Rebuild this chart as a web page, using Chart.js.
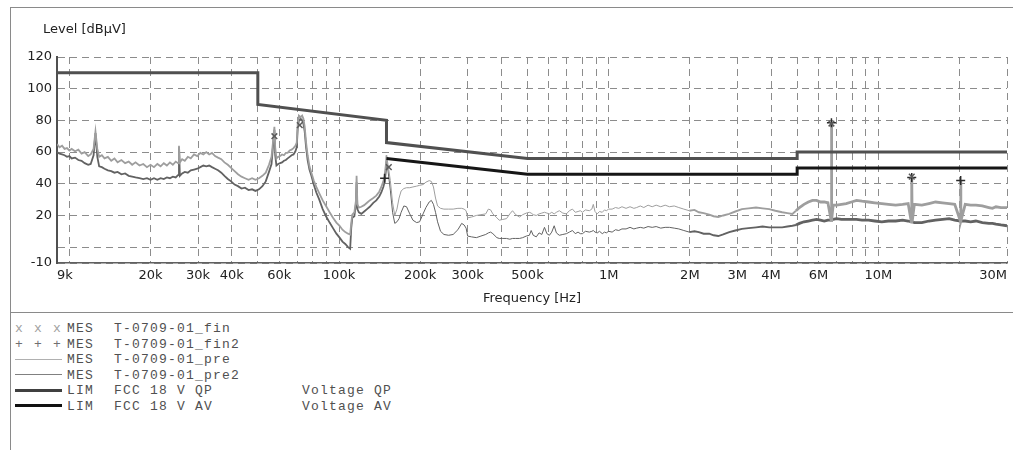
<!DOCTYPE html>
<html>
<head>
<meta charset="utf-8">
<title>Level vs Frequency</title>
<script src="https://cdn.jsdelivr.net/npm/chart.js@4.4.1/dist/chart.umd.min.js"></script>
<style>
  html, body { margin: 0; padding: 0; background: #fff; overflow: hidden; }
  #page { position: relative; width: 1013px; height: 450px; }
  #frame { position: absolute; left: 10px; top: 7px; width: 1003px; height: 443px;
           border-left: 1px solid #8a8a8a; border-top: 1px solid #8a8a8a; box-sizing: border-box; }
  #sep { position: absolute; left: 10px; top: 312px; width: 1003px; height: 1px; background: #8a8a8a; }
  #chart { position: absolute; left: 0; top: 0; }
  #legend { position: absolute; left: 15px; top: 321px; font: 13px "Liberation Mono", "Courier New", monospace;
            letter-spacing: 1.2px; color: #505050; }
  #legend .row { position: relative; height: 15.5px; line-height: 15.5px; white-space: pre; }
  #legend .row span { position: absolute; top: 0; }
  #legend .mark { left: 0; letter-spacing: 1.7px; }
  #legend .swatch { left: 0; width: 47px; top: 7px !important; }
  #legend .kind { left: 52px; }
  #legend .name { left: 99px; }
  #legend .desc { left: 287px; }
</style>
</head>
<body>
<div id="page">
  <div id="frame"></div>
  <div id="sep"></div>
  <canvas id="chart" width="1013" height="312"></canvas>
  <div id="legend"></div>
</div>
<script>
// --- data (frequency in kHz, level in dBµV) ---
const freqKHz = [
  9.0, 9.2, 9.4, 9.6, 9.8, 10.0, 10.2, 10.5, 10.8, 11.1, 11.4, 11.75, 12.0, 12.3, 12.5, 12.7, 12.9,
  13.2, 13.5, 13.9, 14.3, 14.7, 15.1, 15.6, 16.1, 16.6, 17.1, 17.6, 18.2, 18.8, 19.4, 20.0, 20.6,
  21.2, 21.8, 22.4, 23.0, 23.6, 24.2, 24.8, 25.3, 25.5, 25.7, 26.2, 26.8, 27.5, 28.2, 29.0, 29.8,
  30.6, 31.4, 32.2, 33.0, 33.8, 34.7, 35.6, 36.6, 37.6, 38.7, 39.8, 41.0, 42.2, 43.5, 44.8, 46.2,
  47.6, 49.0, 50.5, 52.0, 53.5, 55.0, 56.2, 57.2, 57.6, 58.0, 58.6, 59.5, 60.5, 61.5, 62.5, 63.5,
  64.5, 65.6, 66.7, 67.8, 68.9, 69.7, 70.3, 71.0, 72.0, 73.0, 73.8, 74.6, 75.5, 76.5, 77.7, 79.0,
  80.6, 82.4, 84.5, 87.0, 89.5, 92.3, 95.0, 97.8, 100.5, 103, 105.5, 108, 110, 111, 112, 114,
  115.5, 116.2, 117, 118.5, 121, 124, 127, 130, 134, 137.5, 141, 143.5, 146, 147.6, 149.2, 150,
  152, 155, 158, 161, 164, 167, 170, 174, 178, 183, 188, 194, 199, 205, 210, 216, 220, 224, 228,
  232, 238, 245, 255, 265, 276, 285, 291, 296, 300, 310, 323, 336, 350, 358, 365, 372, 385, 393,
  405, 418, 430, 440, 452, 467, 480, 495, 508, 516, 525, 539, 552, 565, 578, 590, 603, 615, 628,
  640, 656, 676, 697, 715, 734, 752, 770, 785, 799, 820, 848, 866, 877, 890, 907, 925, 947, 965,
  980, 1000, 1030, 1060, 1090, 1120, 1160, 1200, 1240, 1270, 1310, 1350, 1400, 1450, 1500, 1560,
  1620, 1680, 1750, 1820, 1900, 1990, 2080, 2160, 2250, 2360, 2450, 2550, 2660, 2800, 2950, 3120,
  3300, 3520, 3720, 3940, 4150, 4400, 4600, 4800, 4950, 5100, 5300, 5500, 5700, 5900, 6100, 6300,
  6500, 6680, 6700, 6720, 6800, 7000, 7300, 7600, 7950, 8300, 8700, 9200, 9700, 10300, 10900,
  11600, 12300, 12900, 13250, 13300, 13350, 13600, 14500, 15400, 16300, 17300, 18300, 19200,
  20150, 20200, 20250, 21000, 22000, 23000, 24300, 25700, 26500, 27300, 28500, 30000
];
const preLevel = [
  65, 63, 64, 62, 62.5, 61, 62, 60.5, 61.5, 59, 60, 57.5, 58.5, 62, 73, 62, 57,
  58, 56, 57, 54.5, 56, 53.5, 55, 53, 54, 52, 53.5, 51.5, 52.5, 50.5, 52, 50.5,
  52.5, 51, 53, 51.5, 53.5, 52, 54, 53, 64, 53.5, 55.5, 54.5, 57, 56, 58.5, 57.5,
  59.5, 58.5, 60, 58.5, 59.5, 57.5, 56.5, 55.5, 53.5, 52, 50, 48, 46, 44.5, 43.5, 42.5,
  43.5, 42.5, 43.5, 45, 47, 52, 57, 70, 76, 63, 56, 57, 57.5, 58.5, 58, 59.5,
  59.5, 61, 61.5, 62.5, 64, 66, 78, 83, 82, 83, 81, 76, 66, 58, 51, 47,
  42, 38, 34, 29.5, 26, 22, 18.5, 15.5, 13.5, 11, 9.5, 8.5, 8, 15, 20.5, 22,
  29, 45, 27, 25, 25.5, 26.5, 28, 29.5, 31, 32.5, 35, 38, 41.5, 45, 52, 58,
  52, 42, 28, 20, 24, 31, 35.5, 37, 37.5, 37.5, 38, 38.5, 39, 39.5, 41, 42, 41.5, 38, 31,
  26, 24.5, 24, 24, 24, 24.5, 24.5, 24, 23, 18.5, 19, 20, 20.5, 21, 24, 23.5, 21, 18.5, 17,
  17.5, 18, 21, 23, 20.5, 19, 20.5, 21.5, 22, 21.5, 20.5, 20, 21, 21.5, 22, 21.5, 21, 22, 21,
  22, 23, 21.5, 21, 23, 24, 22, 22.5, 23, 22, 23.5, 23, 24, 27, 22.5, 21, 22.5, 22, 23.5,
  23, 24, 24, 25, 24.5, 25.5, 24.5, 25.5, 24.5, 25, 26, 25, 26.5, 25.5, 26.5, 25.5,
  26.5, 25.5, 26, 25, 24, 23, 23.5, 22, 21.5, 20.5, 19.5, 19, 20, 21, 22.5, 24,
  24.5, 25, 24.5, 24, 23, 22, 21.5, 21, 23, 25, 27, 28.5, 29.5, 29.5, 28.5, 28.5,
  28, 17, 78, 17, 26.5, 26.5, 27, 27.5, 28.5, 29.5, 29, 28.5, 28, 27.5, 27,
  26.5, 27, 27.5, 16, 44, 16, 27, 26.5, 27.5, 28.5, 28, 27.5, 27,
  16.5, 42, 16.5, 27, 26.5, 26.5, 26, 25, 24.5, 25.5, 25, 25
];
const pre2Level = [
  60, 59, 58.5, 58, 57, 57.5, 56, 56.5, 55, 54.5, 53, 52, 52.5, 58, 72, 57, 51,
  50.5, 49.5, 48.5, 48, 47, 47.5, 46, 46.5, 45, 44.5, 44, 43.5, 43, 43.5, 42.5, 43.5,
  42.5, 43.5, 43, 44, 43.5, 44.5, 44, 45.5, 63, 45, 46.5, 47.5, 47, 48.5, 49, 49.5,
  50.5, 51.5, 51, 51.5, 50.5, 49.5, 48.5, 47, 45, 43, 41.5, 39.5, 38.5, 37, 37.5, 36,
  36.5, 35.5, 36.5, 38.5, 41.5, 47.5, 52.5, 68, 74, 58, 51.5, 52.5, 53, 53.5, 54.5, 55,
  56, 57, 58, 58.5, 60.5, 63, 75, 80, 81, 80, 78, 73, 63, 55, 49, 45,
  39.5, 34.5, 30, 24, 19.5, 15.5, 12, 8.5, 6, 3.5, 2, 0, -1, 12, 18.5, 19.5,
  27, 41, 24, 22, 21, 22.5, 24, 25.5, 28, 29.5, 32, 34.5, 38, 41, 48, 54,
  48, 36, 22, 15, 16, 18, 22, 26, 25.5, 21, 17, 15.5, 16, 21, 25, 28.5, 29.5, 27, 22,
  16, 10, 8, 7.5, 8, 11, 15, 14, 12, 7, 6.5, 6, 7, 8, 9, 9.5, 8.5, 6, 5.5,
  5.5, 5.5, 5, 5.5, 5.5, 5.5, 6, 7, 7.5, 10.5, 7.5, 6.5, 9, 8, 12.5, 8.5, 7.5, 9.5, 13.5,
  9, 7.5, 8, 8.5, 9.5, 10.5, 8.5, 9.5, 8.5, 8.5, 10, 9.5, 10, 10.5, 9.5, 9, 10, 8.5, 9.5,
  9, 10, 9.5, 11, 10.5, 11.5, 11.5, 12.5, 11.5, 12, 12.5, 12, 13, 12.5, 13, 12,
  12.5, 12.5, 12, 11.5, 10.5, 9.5, 10, 9.5, 8.5, 8.5, 7.5, 7, 8, 9.5, 10.5, 11.5,
  12, 12.5, 13, 12.5, 12.5, 12.5, 13, 13.5, 14, 15, 16, 16.5, 17, 17.5, 17, 16.5,
  17, 17, 17.5, 17.5, 17.5, 18, 17.5, 17.5, 17.5, 17.5, 17, 17, 16.5, 16, 16.5,
  16.5, 17, 16.5, 16, 16, 16, 15.5, 15.5, 16.5, 17, 17.5, 18, 17,
  16.5, 16.5, 16.5, 16.5, 16, 16.5, 15.5, 15, 15, 14.5, 14, 13.5
];

// limit lines (FCC 18, QP and AV)
const qpFreqKHz = [9, 50, 50, 150, 150, 500, 5000, 5000, 30000];
const qpLevel   = [110, 110, 90, 80, 66, 56, 56, 60, 60];
const avFreqKHz = [150, 500, 5000, 5000, 30000];
const avLevel   = [56, 46, 46, 50, 50];

// final measurement markers
const finFreqKHz  = [57.6, 71.5, 153, 6700, 13300];
const finLevel    = [70, 77, 50.5, 78, 44.5];
const fin2FreqKHz = [147.6, 6700, 13300, 20200];
const fin2Level   = [43.5, 78.5, 44, 42];

// axes
const xGridKHz = [9, 10, 20, 30, 40, 50, 60, 70, 80, 90, 100, 200, 300, 400, 500, 600, 700, 800, 900,
  1000, 2000, 3000, 4000, 5000, 6000, 7000, 8000, 9000, 10000, 20000, 30000];
const xLabelKHz  = [9, 20, 30, 40, 60, 100, 200, 300, 500, 1000, 2000, 3000, 4000, 6000, 10000, 30000];
const xLabelText = ['9k', '20k', '30k', '40k', '60k', '100k', '200k', '300k', '500k', '1M', '2M', '3M', '4M', '6M', '10M', '30M'];
const yTicks      = [-10, 0, 20, 40, 60, 80, 100, 120];
const yTickLabels = ['-10', '', '20', '40', '60', '80', '100', '120'];

const yTitle = 'Level [dBµV]';
const xTitle = 'Frequency [Hz]';

const toPoints = (fk, lv) => fk.map((f, i) => ({ x: f * 1000, y: lv[i] }));
const xLabelMap = new Map(xLabelKHz.map((f, i) => [f * 1000, xLabelText[i]]));
const yLabelMap = new Map(yTicks.map((v, i) => [v, yTickLabels[i]]));

const axisFont = { family: '"DejaVu Sans", Arial, sans-serif', size: 13 };

// thicker strokes where the scan is noisy
const traceWidth = (base) => (c) => {
  const f = c.p0.parsed.x;
  if (f > 4.9e6) return base + 1.8;
  if (f > 1.9e6) return base + 0.9;
  if (f < 150e3) return base + 0.8;
  return base;
};

const levelTitle = {
  id: 'levelTitle',
  afterDraw(chart) {
    const { ctx, chartArea } = chart;
    ctx.save();
    ctx.font = '13px "DejaVu Sans", Arial, sans-serif';
    ctx.fillStyle = '#222';
    ctx.textBaseline = 'middle';
    ctx.textAlign = 'left';
    ctx.fillText(yTitle, chartArea.left - 14, chartArea.top - 27);
    ctx.restore();
  }
};

new Chart(document.getElementById('chart'), {
  type: 'line',
  data: {
    datasets: [
      { label: 'T-0709-01_fin', data: toPoints(finFreqKHz, finLevel), showLine: false,
        pointStyle: 'crossRot', pointRadius: 4, pointBorderColor: '#5a5a5a', pointBorderWidth: 1.5 },
      { label: 'T-0709-01_fin2', data: toPoints(fin2FreqKHz, fin2Level), showLine: false,
        pointStyle: 'cross', pointRadius: 4.5, pointBorderColor: '#2a2a2a', pointBorderWidth: 1.5 },
      { label: 'FCC 18 V QP', data: toPoints(qpFreqKHz, qpLevel), borderColor: '#505050', borderWidth: 3,
        pointRadius: 0 },
      { label: 'FCC 18 V AV', data: toPoints(avFreqKHz, avLevel), borderColor: '#161616', borderWidth: 3,
        pointRadius: 0 },
      { label: 'T-0709-01_pre', data: toPoints(freqKHz, preLevel), borderColor: '#9e9e9e', borderWidth: 1,
        pointRadius: 0, segment: { borderWidth: traceWidth(1) } },
      { label: 'T-0709-01_pre2', data: toPoints(freqKHz, pre2Level), borderColor: '#626262', borderWidth: 1,
        pointRadius: 0, segment: { borderWidth: traceWidth(1) } }
    ]
  },
  options: {
    responsive: false,
    devicePixelRatio: 1,
    animation: false,
    layout: { padding: { left: 10, right: 6, top: 57, bottom: 0 } },
    plugins: { legend: { display: false }, tooltip: { enabled: false } },
    elements: { line: { tension: 0, fill: false } },
    scales: {
      x: {
        type: 'logarithmic',
        min: 9000,
        max: 30e6,
        afterBuildTicks: (s) => { s.ticks = xGridKHz.map(f => ({ value: f * 1000 })); },
        afterFit: (s) => { s.height = 49; s.paddingLeft = 0; s.paddingRight = 0; },
        ticks: {
          autoSkip: false, maxRotation: 0, align: 'inner', padding: 5,
          color: '#222', font: axisFont,
          callback: (v) => xLabelMap.get(v) || ''
        },
        grid: { color: '#8c8c8c', lineWidth: 1, drawTicks: false },
        border: { display: true, color: '#606060', width: 1.5, dash: [7, 5] },
        title: { display: true, text: xTitle, color: '#222', font: axisFont, padding: { top: 0, bottom: 6 } }
      },
      y: {
        type: 'linear',
        min: -10,
        max: 120,
        afterBuildTicks: (s) => { s.ticks = yTicks.map(v => ({ value: v })); },
        afterFit: (s) => { s.width = 47; },
        ticks: {
          autoSkip: false, padding: 5, color: '#222', font: axisFont,
          callback: (v) => yLabelMap.get(v) ?? ''
        },
        grid: { color: '#8c8c8c', lineWidth: 1, drawTicks: false },
        border: { display: true, color: '#505050', width: 2, dash: [7, 5] }
      }
    }
  },
  plugins: [levelTitle]
});

// legend block under the plot
const legendRows = [
  { mark: 'x x x', markColor: '#a0a0a0', kind: 'MES', name: 'T-0709-01_fin', desc: '' },
  { mark: '+ + +', markColor: '#707070', kind: 'MES', name: 'T-0709-01_fin2', desc: '' },
  { line: '#b0b0b0', lineW: 1, kind: 'MES', name: 'T-0709-01_pre', desc: '' },
  { line: '#808080', lineW: 1.5, kind: 'MES', name: 'T-0709-01_pre2', desc: '' },
  { line: '#404040', lineW: 3, kind: 'LIM', name: 'FCC 18 V QP', desc: 'Voltage QP' },
  { line: '#111111', lineW: 3, kind: 'LIM', name: 'FCC 18 V AV', desc: 'Voltage AV' }
];
const legendEl = document.getElementById('legend');
legendRows.forEach(r => {
  const row = document.createElement('div');
  row.className = 'row';
  let sample = '';
  if (r.mark) {
    sample = `<span class="mark" style="color:${r.markColor}">${r.mark}</span>`;
  } else {
    sample = `<span class="swatch" style="height:0;border-top:${r.lineW}px solid ${r.line};margin-top:${-r.lineW / 2}px"></span>`;
  }
  row.innerHTML = sample +
    `<span class="kind">${r.kind}</span><span class="name">${r.name}</span><span class="desc">${r.desc}</span>`;
  legendEl.appendChild(row);
});
</script>
</body>
</html>
